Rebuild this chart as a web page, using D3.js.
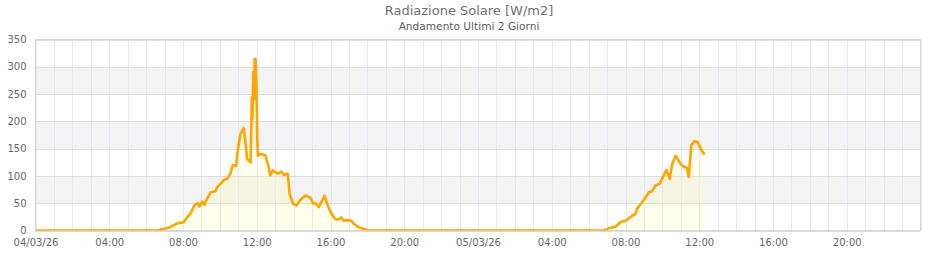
<!DOCTYPE html>
<html>
<head>
<meta charset="utf-8">
<script src="https://cdn.jsdelivr.net/npm/d3@7"></script>
<style>
  body { margin: 0; background: #fff; }
  svg text { font-family: "DejaVu Sans", sans-serif; fill: #666; }
</style>
</head>
<body>
<div id="chart"></div>
<script>
/* ---------- Data ---------- */
const day1Times = ["00:00","06:40","06:47","07:00","07:18","07:41","08:02","08:12","08:24","08:38","08:48","08:54",
  "09:02","09:10","09:18","09:30","09:46","09:51","10:02","10:12","10:24","10:34","10:42","10:53","10:58","11:07",
  "11:18","11:29","11:40","11:44","11:46","11:49","11:51","11:53","11:56","11:58","12:00","12:02","12:04","12:12",
  "12:28","12:39","12:44","12:53","13:08","13:20","13:28","13:41","13:47","13:58","14:09","14:22","14:38","14:53",
  "15:04","15:11","15:22","15:33","15:41","15:49","16:00","16:11","16:16","16:23","16:35","16:43","16:52","17:07",
  "17:16","17:32","17:48","18:04","23:59"];
const day1Values = [0,0,2,3,6,13,15,23,31,47,50,44,
  53,47,58,70,72,79,86,92,95,104,120,118,147,177,
  188,131,125,244,205,291,240,314,314,284,226,160,137,140,
  138,116,101,110,104,108,102,104,67,49,46,56,64,61,
  49,50,43,55,64,49,34,24,21,20,24,18,19,18,
  12,6,3,0,0];

const day2Times = ["00:00","06:49","07:05","07:27","07:43","08:00","08:22","08:32","08:38","08:49","08:59","09:16",
  "09:26","09:37","09:52","10:02","10:13","10:24","10:32","10:43","10:59","11:10","11:20","11:26","11:34","11:44",
  "11:55","12:07","12:18"];
const day2Values = [0,0,4,7,15,18,27,30,40,48,55,70,
  72,82,86,98,111,95,122,137,122,117,115,98,156,164,
  162,147,139];

const dayLabels = ["04/03/2026", "05/03/2026"];
const yTicks = [0, 50, 100, 150, 200, 250, 300, 350];
const title = "Radiazione Solare [W/m2]";
const subtitle = "Andamento Ultimi 2 Giorni";

/* ---------- Build series ---------- */
const parse = d3.timeParse("%d/%m/%Y %H:%M");
const series = [
  ...day1Times.map((t, i) => ({ t: parse(`${dayLabels[0]} ${t}`), v: day1Values[i] })),
  ...day2Times.map((t, i) => ({ t: parse(`${dayLabels[1]} ${t}`), v: day2Values[i] }))
];

/* ---------- Chart ---------- */
const W = 940, H = 260;
const M = { top: 39.5, right: 19.5, bottom: 29.5, left: 35.5 };

const svg = d3.select("#chart").append("svg")
  .attr("width", W).attr("height", H);

const x = d3.scaleTime()
  .domain([parse("04/03/2026 00:00"), parse("06/03/2026 00:00")])
  .range([M.left, W - M.right]);

const y = d3.scaleLinear()
  .domain([0, 350])
  .range([H - M.bottom, M.top]);

// alternating bands
svg.append("g").selectAll("rect")
  .data(d3.pairs(yTicks).filter((d, i) => i % 2 === 1))
  .join("rect")
    .attr("x", M.left)
    .attr("width", W - M.right - M.left)
    .attr("y", d => y(d[1]))
    .attr("height", d => y(d[0]) - y(d[1]))
    .attr("fill", "#f3f3f3");

// hourly vertical grid
svg.append("g").selectAll("line")
  .data(x.ticks(d3.timeHour.every(1)))
  .join("line")
    .attr("x1", d => Math.round(x(d)) + 0.5).attr("x2", d => Math.round(x(d)) + 0.5)
    .attr("y1", M.top).attr("y2", H - M.bottom)
    .attr("stroke", "#e8e6f6");

// horizontal grid
svg.append("g").selectAll("line")
  .data(yTicks)
  .join("line")
    .attr("x1", M.left).attr("x2", W - M.right)
    .attr("y1", d => Math.round(y(d)) + 0.5).attr("y2", d => Math.round(y(d)) + 0.5)
    .attr("stroke", "#dcdcdc");

// plot frame
svg.append("rect")
  .attr("x", M.left).attr("y", M.top)
  .attr("width", W - M.right - M.left).attr("height", H - M.bottom - M.top)
  .attr("fill", "none").attr("stroke", "#d6d6d6");

svg.append("clipPath").attr("id", "clip")
  .append("rect")
  .attr("x", M.left).attr("y", M.top)
  .attr("width", W - M.right - M.left).attr("height", H - M.bottom - M.top);

const plot = svg.append("g").attr("clip-path", "url(#clip)");

plot.append("path")
  .datum(series)
  .attr("fill", "#ffff80")
  .attr("fill-opacity", 0.14)
  .attr("d", d3.area().x(d => x(d.t)).y0(y(0)).y1(d => y(d.v)));

plot.append("path")
  .datum(series)
  .attr("fill", "none")
  .attr("stroke", "#ffa500")
  .attr("stroke-width", 2.6)
  .attr("stroke-linejoin", "round")
  .attr("d", d3.line().x(d => x(d.t)).y(d => y(d.v)));

// axes
const fmtDay = d3.timeFormat("%d/%m/%y");
const fmtHour = d3.timeFormat("%H:%M");
const xAxis = d3.axisBottom(x)
  .ticks(d3.timeHour.every(4))
  .tickSize(0).tickPadding(8)
  .tickFormat(d => d.getHours() === 0 ? fmtDay(d) : fmtHour(d));

svg.append("g")
  .attr("transform", `translate(0,${H - M.bottom})`)
  .call(xAxis)
  .call(g => g.select(".domain").remove())
  .call(g => g.selectAll("text").attr("font-size", 10).attr("fill", "#666")
    .filter(d => +d === +x.domain()[1]).remove());

svg.append("g")
  .attr("transform", `translate(${M.left},0)`)
  .call(d3.axisLeft(y).tickValues(yTicks).tickSize(0).tickPadding(9))
  .call(g => g.select(".domain").remove())
  .call(g => g.selectAll("text").attr("font-size", 10).attr("fill", "#666"));

// titles
svg.append("text")
  .attr("x", W / 2 - 1).attr("y", 15)
  .attr("text-anchor", "middle")
  .attr("font-size", 13)
  .style("fill", "#707070")
  .text(title);

svg.append("text")
  .attr("x", W / 2 - 1).attr("y", 30)
  .attr("text-anchor", "middle")
  .attr("font-size", 10.6)
  .style("fill", "#5a5a5a")
  .text(subtitle);
</script>
</body>
</html>
